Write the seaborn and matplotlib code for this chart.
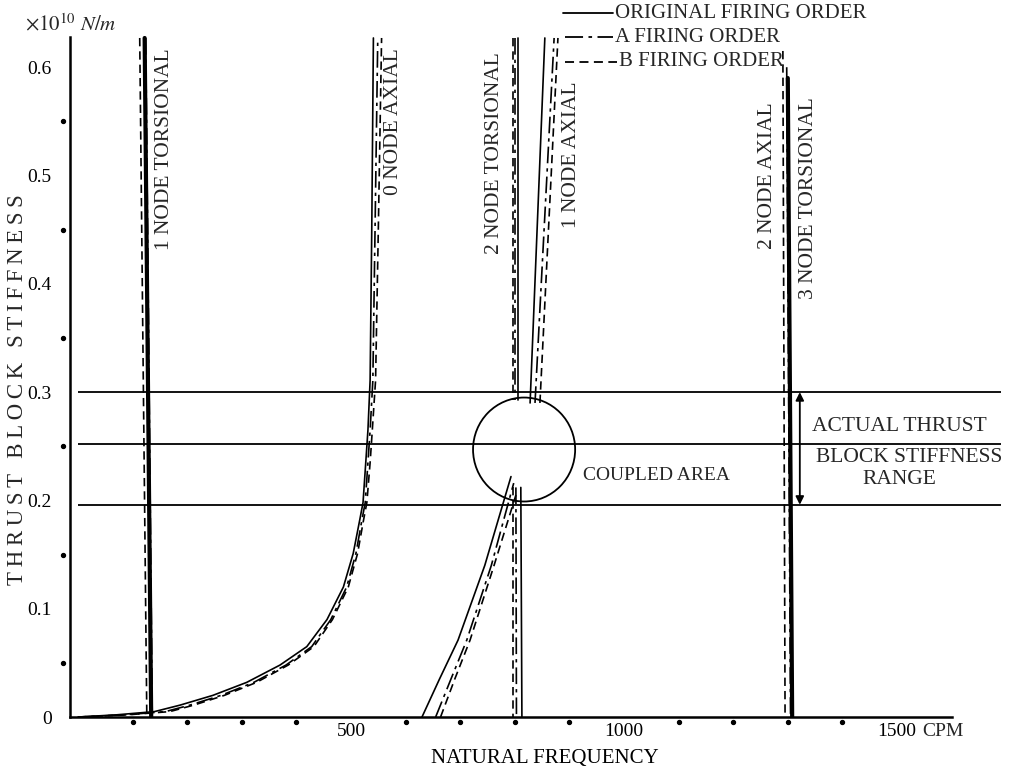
import numpy as np
import pandas as pd
import matplotlib.pyplot as plt
import seaborn as sns
from matplotlib.patches import Ellipse
from matplotlib.lines import Line2D

# natural frequency in CPM, thrust block stiffness in 1e10 N/m
k_guides = [0.300, 0.252, 0.196]

# 1 node torsional
tor1_k = [0.627, 0.0]
tor1_orig = [122, 134]
tor1_a = [124, 136]
tor1_b = [113, 126]

# 0 node axial
ax0_k = [0.0, 0.002, 0.005, 0.011, 0.020, 0.032, 0.048, 0.065, 0.090, 0.120,
         0.151, 0.182, 0.198, 0.235, 0.265, 0.311, 0.450, 0.627]
ax0_orig = [0, 70, 140, 187, 247, 309, 370, 419, 456, 486, 504, 516, 522, 527, 531, 535, 538, 541]
ax0_a = [0, 85, 160, 205, 262, 322, 381, 428, 463, 492, 509, 520, 526, 531, 535, 540, 544, 549]
ax0_b = [0, 90, 168, 212, 268, 327, 385, 432, 466, 495, 512, 523, 529, 535, 539, 545, 550, 556]

# 2 node torsional, above and below the coupled area
tor2_up_k = [0.627, 0.293]
tor2_up_orig = [806, 806]
tor2_up_a = [801, 801]
tor2_up_b = [797, 797]
tor2_lo_k = [0.212, 0.0]
tor2_lo_orig = [811, 813]
tor2_lo_a = [802, 803]
tor2_lo_b = [797, 797]

# 1 node axial, above and below the coupled area
ax1_up_k = [0.290, 0.627]
ax1_up_orig = [828, 855]
ax1_up_a = [837, 872]
ax1_up_b = [846, 879]
ax1_lo_orig_k = [0.0, 0.035, 0.071, 0.140, 0.222]
ax1_lo_orig = [630, 662, 696, 745, 793]
ax1_lo_a_k = [0.0, 0.035, 0.071, 0.140, 0.216]
ax1_lo_a = [655, 683, 712, 757, 798]
ax1_lo_b_k = [0.0, 0.035, 0.071, 0.140, 0.205]
ax1_lo_b = [664, 690, 718, 762, 802]

# 2 node axial / 3 node torsional
tor3_orig_k = [0.590, 0.0]
tor3_orig = [1300, 1308]
tor3_a_k = [0.600, 0.0]
tor3_a = [1298, 1305]
tor3_b_k = [0.615, 0.0]
tor3_b = [1291, 1295]

coupled_center = (817, 0.247)
coupled_size = (187, 0.096)

mode_labels = [("1 NODE TORSIONAL", 159, 0.524), ("0 NODE AXIAL", 577, 0.550),
               ("2 NODE TORSIONAL", 762, 0.521), ("1 NODE AXIAL", 903, 0.519),
               ("2 NODE AXIAL", 1262, 0.500), ("3 NODE TORSIONAL", 1337, 0.479)]
legend_names = ["ORIGINAL FIRING ORDER", "A FIRING ORDER", "B FIRING ORDER"]

sns.set_theme(style="white")
plt.rcParams["font.family"] = ["Liberation Serif", "DejaVu Serif"]
plt.rcParams["mathtext.fontset"] = "stix"

W, H = 1018, 770
fig = plt.figure(figsize=(W / 100, H / 100), dpi=100)
ax = fig.add_axes([0.0686, 0.0688, 0.9198, 0.8861])

DD = (10, 3, 2, 3)
DS = (5, 3)


def draw(x, y, style, lw=1.2):
    sns.lineplot(x=x, y=y, sort=False, estimator=None, color="black", lw=lw, ax=ax)
    if style == "a":
        ax.lines[-1].set_dashes(DD)
    elif style == "b":
        ax.lines[-1].set_dashes(DS)


draw(tor1_b, tor1_k, "b")
draw(tor1_a, tor1_k, "a")
draw(tor1_orig, tor1_k, "orig", lw=3.0)

draw(ax0_orig, ax0_k, "orig")
draw(ax0_a, ax0_k, "a")
draw(ax0_b, ax0_k, "b")

draw(tor2_up_orig, tor2_up_k, "orig")
draw(tor2_up_a, tor2_up_k, "a")
draw(tor2_up_b, tor2_up_k, "b")
draw(tor2_lo_orig, tor2_lo_k, "orig")
draw(tor2_lo_a, tor2_lo_k, "a")
draw(tor2_lo_b, tor2_lo_k, "b")

draw(ax1_up_orig, ax1_up_k, "orig")
draw(ax1_up_a, ax1_up_k, "a")
draw(ax1_up_b, ax1_up_k, "b")
draw(ax1_lo_orig, ax1_lo_orig_k, "orig")
draw(ax1_lo_a, ax1_lo_a_k, "a")
draw(ax1_lo_b, ax1_lo_b_k, "b")

draw(tor3_b, tor3_b_k, "b")
draw(tor3_a, tor3_a_k, "a")
draw(tor3_orig, tor3_orig_k, "orig", lw=3.0)

# stiffness range guides
ax.hlines(k_guides, 0, 1690, color="black", lw=1.3, clip_on=False)
ax.add_patch(Ellipse(coupled_center, coupled_size[0], coupled_size[1],
                     fill=False, ec="black", lw=1.3))
ax.annotate("", xy=(1322, k_guides[2]), xytext=(1322, k_guides[0]),
            arrowprops=dict(arrowstyle="<|-|>", color="black", lw=1.3,
                            mutation_scale=12, shrinkA=0, shrinkB=0))

ax.text(925, 0.223, "COUPLED AREA", fontsize=14, va="center")
ax.text(1505, 0.268, "ACTUAL THRUST", fontsize=15.5, ha="center", va="center")
ax.text(1522, 0.240, "BLOCK STIFFNESS", fontsize=15.5, ha="center", va="center")
ax.text(1505, 0.219, "RANGE", fontsize=15.5, ha="center", va="center")
for txt, x, y in mode_labels:
    ax.text(x, y, txt, fontsize=15.5, rotation=90, ha="center", va="center")

# axes
ax.set_xlim(-15, 1700)
ax.set_ylim(0, 0.63)
for s in ["top", "right"]:
    ax.spines[s].set_visible(False)
for s in ["left", "bottom"]:
    ax.spines[s].set_color("black")
    ax.spines[s].set_linewidth(1.8)
ax.spines["left"].set_bounds(0, 0.628)
ax.spines["bottom"].set_bounds(-15, 1600)

ax.set_xticks([500, 1000, 1500])
ax.set_xticklabels(["500", "1000", "1500"])
ax.set_yticks([0, 0.1, 0.2, 0.3, 0.4, 0.5, 0.6])
ax.set_yticklabels(["0", "0.1", "0.2", "0.3", "0.4", "0.5", "0.6"])
ax.tick_params(axis="both", direction="inout", length=16, width=1.5, color="black",
               labelsize=14, labelcolor="black")
ax.tick_params(axis="x", pad=-4)
ax.tick_params(axis="y", pad=5)
ax.text(1585, -0.0135, "CPM", fontsize=14, ha="center", va="center")

# minor dots
ax.scatter([-27] * 6, [0.05, 0.15, 0.25, 0.35, 0.45, 0.55], s=8, color="black", clip_on=False)
ax.scatter([100, 200, 300, 400, 600, 700, 800, 900, 1100, 1200, 1300, 1400],
           [-0.005] * 12, s=8, color="black", clip_on=False)

ax.set_xlabel("NATURAL FREQUENCY", fontsize=15, color="black")
ax.xaxis.set_label_coords(0.5075, -0.047)
# y label, letter-spaced like the original lettering
ylab = "\u2009".join("THRUST BLOCK STIFFNESS")
fig.text(18 / W, 1 - 390 / H, ylab, fontsize=16.5, rotation=90, ha="center", va="center")
fig.text(25 / W, 1 - 25 / H, r"$\times10^{10}\ N/m$", fontsize=15, va="center")

# legend drawn by hand at the top right
leg_y = [13, 37, 62]
leg_x0 = [563, 565, 565]
leg_x1 = [613, 613, 617]
leg_dash = [None, DD, DS]
for i in range(3):
    ln = Line2D([leg_x0[i] / W, leg_x1[i] / W], [1 - leg_y[i] / H] * 2,
                transform=fig.transFigure, color="black", lw=1.3)
    if leg_dash[i]:
        ln.set_dashes(leg_dash[i])
    fig.add_artist(ln)
    fig.text((leg_x1[i] + 2) / W, 1 - leg_y[i] / H, legend_names[i], fontsize=15, va="center")

fig.savefig("out.png", dpi=100)
